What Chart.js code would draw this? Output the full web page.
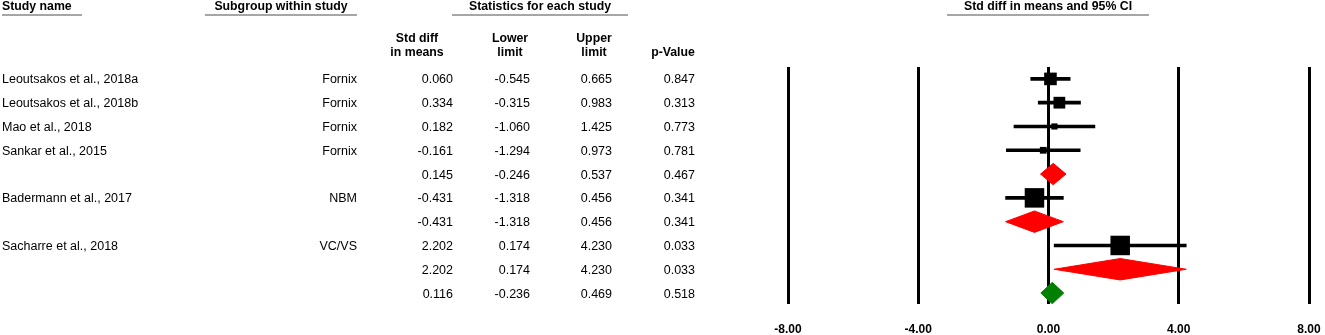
<!DOCTYPE html>
<html>
<head>
<meta charset="utf-8">
<script src="https://cdn.jsdelivr.net/npm/chart.js@4"></script>
<style>
  html, body { margin: 0; padding: 0; background: #fff; }
  #forest { display: block; }
</style>
</head>
<body>
<canvas id="forest" width="1325" height="335"></canvas>
<script>
// rows, top to bottom
const studyNames = ['Leoutsakos et al., 2018a', 'Leoutsakos et al., 2018b', 'Mao et al., 2018', 'Sankar et al., 2015', '',
  'Badermann et al., 2017', '', 'Sacharre et al., 2018', '', ''];
const subgroups = ['Fornix', 'Fornix', 'Fornix', 'Fornix', '', 'NBM', '', 'VC/VS', '', ''];
const rowKinds = ['study', 'study', 'study', 'study', 'subtotal', 'study', 'subtotal', 'study', 'subtotal', 'overall'];
const stdDiff = [0.060, 0.334, 0.182, -0.161, 0.145, -0.431, -0.431, 2.202, 2.202, 0.116];
const lowerLimit = [-0.545, -0.315, -1.060, -1.294, -0.246, -1.318, -1.318, 0.174, 0.174, -0.236];
const upperLimit = [0.665, 0.983, 1.425, 0.973, 0.537, 0.456, 0.456, 4.230, 4.230, 0.469];
const pValues = [0.847, 0.313, 0.773, 0.781, 0.467, 0.341, 0.341, 0.033, 0.033, 0.518];
// relative weight (%) within subgroup, sets square size
const relWeight = [41.8, 36.3, 9.9, 12.0, null, 100, null, 100, null, null];
const xTicks = [-8, -4, 0, 4, 8];

const FONT = '"Liberation Sans", Arial, sans-serif';
const BIG_SQUARE = 19.5;
const DIAMOND_H = 0.45;

const rows = stdDiff.map((_, i) => i);
const studyRows = rows.filter(i => rowKinds[i] === 'study');

const datasets = [];

datasets.push({
  type: 'bar',
  indexAxis: 'y',
  data: studyRows.map(i => ({ y: i, x: [lowerLimit[i], upperLimit[i]] })),
  backgroundColor: '#000',
  barThickness: 3,
  order: 3
});

datasets.push({
  type: 'scatter',
  data: studyRows.map(i => ({ x: stdDiff[i], y: i })),
  pointStyle: 'rect',
  pointRadius: studyRows.map(i => BIG_SQUARE * Math.sqrt(relWeight[i] / 100) / Math.SQRT2),
  backgroundColor: '#000',
  borderWidth: 0,
  order: 2
});

rows.filter(i => rowKinds[i] !== 'study').forEach(i => {
  const col = rowKinds[i] === 'overall' ? '#008000' : '#ff0000';
  datasets.push({
    type: 'line',
    data: [
      { x: lowerLimit[i], y: i },
      { x: stdDiff[i], y: i - DIAMOND_H },
      { x: upperLimit[i], y: i },
      { x: stdDiff[i], y: i + DIAMOND_H },
      { x: lowerLimit[i], y: i }
    ],
    fill: 'shape',
    backgroundColor: col,
    borderColor: col,
    borderWidth: 1,
    pointRadius: 0,
    tension: 0,
    order: 1
  });
});

const tablePlugin = {
  id: 'table',
  afterDraw(chart) {
    const ctx = chart.ctx;
    const y = chart.scales.y;
    ctx.save();
    ctx.fillStyle = '#000';
    ctx.textBaseline = 'middle';

    const header = (txt, x, yy, align) => {
      ctx.font = 'bold 12.3px ' + FONT;
      ctx.textAlign = align;
      ctx.fillText(txt, x, yy);
    };
    const rule = (x1, x2) => {
      ctx.strokeStyle = '#a6a6a6';
      ctx.lineWidth = 2;
      ctx.beginPath();
      ctx.moveTo(x1, 15);
      ctx.lineTo(x2, 15);
      ctx.stroke();
    };

    header('Study name', 2, 7, 'left');
    rule(2, 82);
    header('Subgroup within study', 281, 7, 'center');
    rule(205, 357);
    header('Statistics for each study', 540, 7, 'center');
    rule(452, 628);
    header('Std diff in means and 95% CI', 1048, 7, 'center');
    rule(947, 1149);

    header('Std diff', 417, 39, 'center');
    header('in means', 417, 53, 'center');
    header('Lower', 510, 39, 'center');
    header('limit', 510, 53, 'center');
    header('Upper', 594, 39, 'center');
    header('limit', 594, 53, 'center');
    header('p-Value', 673, 53, 'center');

    ctx.font = '12.5px ' + FONT;
    rows.forEach(i => {
      const py = y.getPixelForValue(i) + 1;
      ctx.textAlign = 'left';
      ctx.fillText(studyNames[i], 2, py);
      ctx.textAlign = 'right';
      ctx.fillText(subgroups[i], 357, py);
      ctx.fillText(stdDiff[i].toFixed(3), 453, py);
      ctx.fillText(lowerLimit[i].toFixed(3), 530, py);
      ctx.fillText(upperLimit[i].toFixed(3), 612, py);
      ctx.fillText(pValues[i].toFixed(3), 695, py);
    });
    ctx.restore();
  }
};

new Chart(document.getElementById('forest'), {
  type: 'scatter',
  data: { datasets },
  options: {
    responsive: false,
    animation: false,
    devicePixelRatio: 1,
    layout: { padding: { left: 788, right: 16, top: 67, bottom: 0 } },
    plugins: { legend: { display: false }, tooltip: { enabled: false } },
    scales: {
      x: {
        type: 'linear',
        min: -8,
        max: 8,
        afterBuildTicks: s => { s.ticks = xTicks.map(v => ({ value: v })); },
        afterFit: s => {
          s.height = 31;
          s.paddingLeft = 0;
          s.paddingRight = 0;
        },
        grid: { color: '#000', lineWidth: 3, drawTicks: false },
        border: { display: false },
        ticks: {
          padding: 18,
          color: '#000',
          font: { family: FONT, size: 12, weight: 'bold' },
          callback: v => v.toFixed(2)
        }
      },
      y: {
        type: 'linear',
        display: false,
        reverse: true,
        min: -0.5,
        max: 9.46,
        offset: false,
        grid: { offset: false }
      }
    }
  },
  plugins: [tablePlugin]
});
</script>
</body>
</html>
